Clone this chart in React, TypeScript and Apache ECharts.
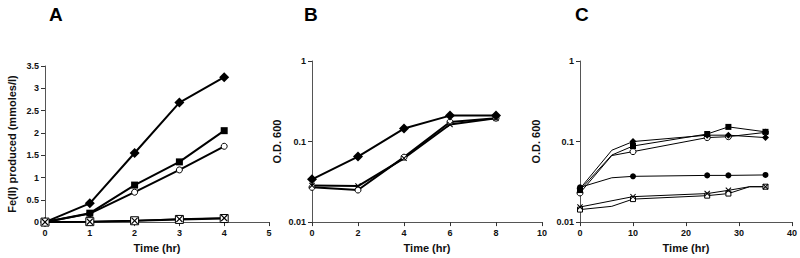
import React, { useEffect, useRef } from "react";
import * as echarts from "echarts";

// Panel A
const timeA = [0, 1, 2, 3, 4];
const aDiamond = [0, 0.42, 1.55, 2.68, 3.25];
const aSquare = [0, 0.2, 0.83, 1.35, 2.05];
const aCircle = [0, 0.19, 0.67, 1.17, 1.7];
const aBox = [0, 0.01, 0.03, 0.06, 0.08];
const aCross = [0, 0.01, 0.03, 0.07, 0.09];

// Panel B
const timeB = [0, 2, 4, 6, 8];
const bDiamond = [0.034, 0.065, 0.145, 0.21, 0.21];
const bCircle = [0.027, 0.025, 0.064, 0.175, 0.195];
const bCross = [0.0285, 0.028, 0.062, 0.163, 0.194];

// Panel C
const timeC = [0, 6, 10, 24, 28, 32, 35];
const markedC = [true, false, true, true, true, false, true];
const cDiamond = [0.026, 0.078, 0.1, 0.12, 0.12, null, 0.112];
const cSquare = [0.025, 0.068, 0.088, 0.124, 0.152, null, 0.132];
const cCircle = [0.023, 0.067, 0.075, 0.112, 0.115, null, 0.13];
const cDot = [0.027, 0.0355, 0.037, 0.038, 0.038, null, 0.0385];
const cCross = [0.0154, null, 0.0207, 0.0226, 0.0248, 0.0275, 0.0275];
const cBox = [0.0143, 0.0157, 0.0193, 0.0213, 0.0226, 0.0275, 0.0275];

const panelTitles = ["A", "B", "C"];
const yNames = ["Fe(II) produced (mmoles/l)", "O.D. 600", "O.D. 600"];
const xName = "Time (hr)";

const FONT = "'Liberation Sans', Arial, Helvetica, sans-serif";
const CROSS =
  "path://M0,1.2L1.2,0L5,3.8L8.8,0L10,1.2L6.2,5L10,8.8L8.8,10L5,6.2L1.2,10L0,8.8L3.8,5Z";

function pairs(xs: number[], ys: (number | null)[], marks?: boolean[]) {
  return xs.map((x, i) => {
    const item: any = { value: [x, ys[i]] };
    if (marks && !marks[i]) item.symbol = "none";
    return item;
  });
}

export default function App() {
  const ref = useRef<HTMLDivElement>(null);
  useEffect(() => {
    if (!ref.current) return;
    const chart = echarts.init(ref.current, undefined, { renderer: "svg" });
    const axisLine = { lineStyle: { color: "#555", width: 1 } };
    const axisTick = { show: true, inside: false, length: 4, lineStyle: { color: "#333" } };
    const axisLabel = { color: "#111", fontSize: 9, fontWeight: "bold", fontFamily: FONT };
    const nameStyle = { color: "#111", fontSize: 11, fontWeight: "bold", fontFamily: FONT };
    const xAxisBase = (idx: number, max: number, interval: number) => ({
      type: "value",
      gridIndex: idx,
      min: 0,
      max,
      interval,
      name: xName,
      nameLocation: "middle",
      nameGap: 16,
      nameTextStyle: nameStyle,
      axisLine: { show: true, onZero: false, ...axisLine },
      axisTick,
      axisLabel: { ...axisLabel, margin: 6 },
      splitLine: { show: false },
    });
    const line = (
      name: string,
      axis: number,
      data: any[],
      symbol: string,
      size: number,
      filled: boolean,
      width: number
    ) => ({
      name,
      type: "line",
      xAxisIndex: axis,
      yAxisIndex: axis,
      data,
      symbol,
      symbolSize: size,
      connectNulls: true,
      showSymbol: true,
      lineStyle: { color: "#000", width },
      itemStyle: filled
        ? { color: "#000", borderColor: "#000", borderWidth: 0 }
        : { color: "#fff", borderColor: "#000", borderWidth: 1 },
      emphasis: { disabled: true },
    });
    const logY = (idx: number, gap: number) => ({
      type: "log",
      logBase: 10,
      gridIndex: idx,
      min: 0.01,
      max: 1,
      name: yNames[idx],
      nameLocation: "middle",
      nameGap: gap,
      nameTextStyle: nameStyle,
      axisLine: { show: true, ...axisLine },
      axisTick,
      minorTick: { show: false },
      axisLabel: { ...axisLabel, margin: 6 },
      splitLine: { show: false },
    });
    const option: any = {
      animation: false,
      backgroundColor: "#fff",
      textStyle: { fontFamily: FONT },
      title: panelTitles.map((t, i) => ({
        text: t,
        left: [44, 299, 570][i],
        top: 0,
        textStyle: { fontSize: 19, fontWeight: "bold", color: "#000", fontFamily: FONT },
      })),
      grid: [
        { left: 45, top: 66, width: 224, height: 159 },
        { left: 312, top: 61, width: 230, height: 162 },
        { left: 580, top: 61, width: 212, height: 164 },
      ],
      xAxis: [xAxisBase(0, 5, 1), xAxisBase(1, 10, 2), xAxisBase(2, 40, 10)],
      yAxis: [
        {
          type: "value",
          gridIndex: 0,
          min: 0,
          max: 3.5,
          interval: 0.5,
          name: yNames[0],
          nameLocation: "middle",
          nameGap: 28,
          nameTextStyle: nameStyle,
          axisLine: { show: true, ...axisLine },
          axisTick,
          axisLabel: { ...axisLabel, margin: 6 },
          splitLine: { show: false },
        },
        logY(1, 30),
        logY(2, 39),
      ],
      series: [
        line("A circle", 0, pairs(timeA, aCircle), "circle", 6, false, 2),
        line("A square", 0, pairs(timeA, aSquare), "rect", 7, true, 2),
        line("A diamond", 0, pairs(timeA, aDiamond), "diamond", 10, true, 2),
        line("A box", 0, pairs(timeA, aBox), "rect", 8, false, 2),
        line("A cross", 0, pairs(timeA, aCross), CROSS, 7, true, 1.5),
        line("B circle", 1, pairs(timeB, bCircle), "circle", 6, false, 2),
        line("B cross", 1, pairs(timeB, bCross), CROSS, 6, true, 2),
        line("B diamond", 1, pairs(timeB, bDiamond), "diamond", 10, true, 2),
        line("C box", 2, pairs(timeC, cBox, markedC), "rect", 5, false, 1),
        line("C cross", 2, pairs(timeC, cCross, markedC), CROSS, 6, true, 1),
        line("C dot", 2, pairs(timeC, cDot, markedC), "circle", 6, true, 1),
        line("C circle", 2, pairs(timeC, cCircle, markedC), "circle", 6, false, 1),
        line("C diamond", 2, pairs(timeC, cDiamond, markedC), "diamond", 7, true, 1),
        line("C square", 2, pairs(timeC, cSquare, markedC), "rect", 6, true, 1),
      ],
    };
    chart.setOption(option);
    return () => chart.dispose();
  }, []);
  return <div ref={ref} style={{ width: 800, height: 258, position: "absolute", left: 0, top: 0 }} />;
}
